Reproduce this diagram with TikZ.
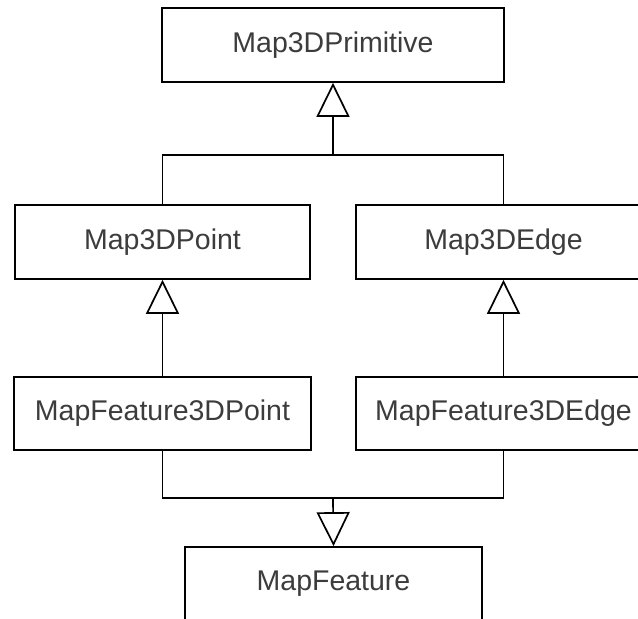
\documentclass[tikz,border=0pt]{standalone}
\usepackage{fontspec}
\setmainfont{Liberation Sans}
\usetikzlibrary{arrows.meta}
\definecolor{txt}{RGB}{60,60,60}
\begin{document}
\begin{tikzpicture}[x=1pt,y=-1pt,
  box/.style={draw=black,line width=1.7pt,fill=white,minimum height=74pt,inner sep=0pt,
    text=txt,font=\fontsize{28.5}{30}\selectfont},
  inh/.style={line width=1.7pt,-{Triangle[open,length=34pt,width=33pt,line width=1.7pt]}},
  conn/.style={line width=1.7pt}]
\useasboundingbox (0,0) rectangle (638,619);
\clip (0,0) rectangle (638,619);
\fill[white] (0,0) rectangle (638,619);
\node[box,minimum width=342pt] (prim) at (333,45) {Map3DPrimitive};
\node[box,minimum width=295pt] (point) at (162.5,242) {Map3DPoint};
\node[box,minimum width=295pt] (edge) at (503.5,242) {Map3DEdge};
\node[box,minimum width=297pt,minimum height=73pt] (fpoint) at (162.5,413.5) {MapFeature3DPoint};
\node[box,minimum width=295pt,minimum height=73pt] (fedge) at (503.5,413.5) {MapFeature3DEdge};
\node[box,minimum width=297pt] (feat) at (333.5,584) {MapFeature};
\coordinate (j1) at (333,155);
\coordinate (j2) at (333,498);
\draw[conn] (point.north) |- (j1) -| (edge.north);
\draw[inh] (j1) -- (prim.south);
\draw[inh] (fpoint.north) -- (point.south);
\draw[inh] (fedge.north) -- (edge.south);
\draw[conn] (fpoint.south) |- (j2) -| (fedge.south);
\draw[inh] (j2) -- (feat.north);
\end{tikzpicture}
\end{document}
